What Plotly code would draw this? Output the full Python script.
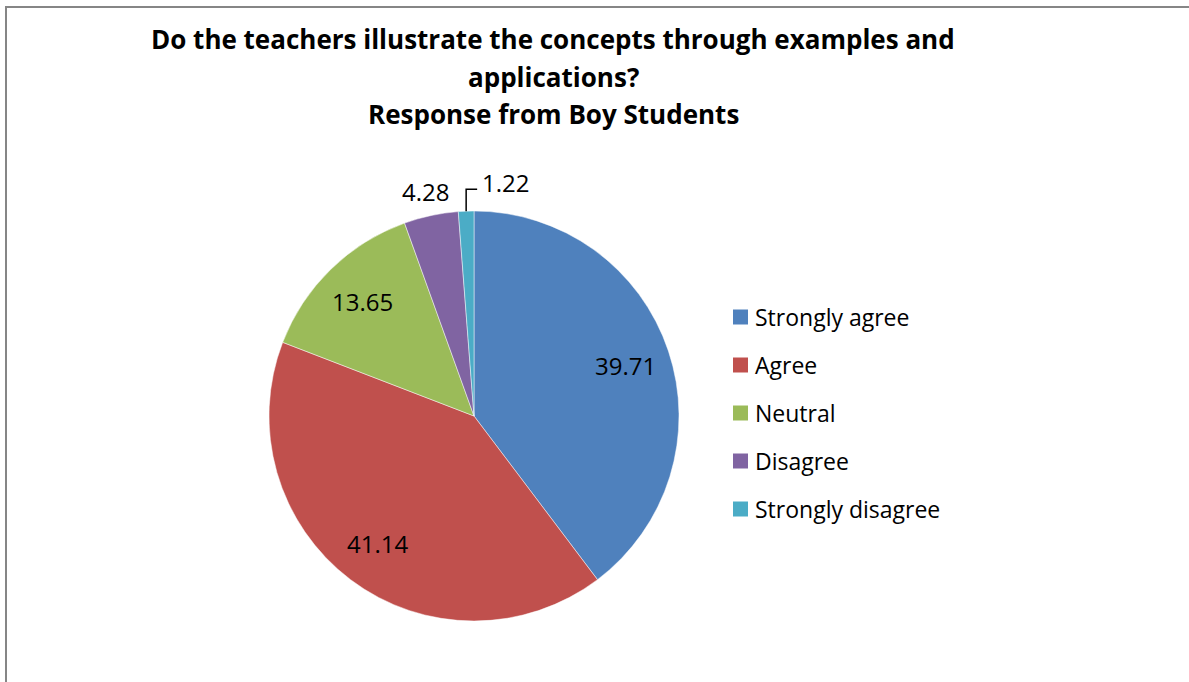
import numpy as np
import plotly.graph_objects as go

# Survey responses (percent)
categories = ["Strongly agree", "Agree", "Neutral", "Disagree", "Strongly disagree"]
values = [39.71, 41.14, 13.65, 4.28, 1.22]
colors = ["#4F81BD", "#C0504D", "#9BBB59", "#8064A2", "#4BACC6"]
title_lines = [
    "Do the teachers illustrate the concepts through examples and",
    "applications?",
    "Response from Boy Students",
]

W, H = 1189, 682
CX, CY, R = 474, 416, 205  # pie centre and radius in pixels
FONT = "Open Sans"


def px(x):
    return x / W


def py(y):
    return 1 - y / H


fig = go.Figure(
    go.Pie(
        labels=categories,
        values=values,
        marker=dict(colors=colors, line=dict(color="rgba(255,255,255,0.6)", width=0.8)),
        sort=False,
        direction="clockwise",
        rotation=0,
        textinfo="none",
        hoverinfo="label+value",
        showlegend=False,
        domain=dict(x=[px(CX - R), px(CX + R)], y=[py(CY + R), py(CY - R)]),
    )
)

# slice mid-angles, clockwise from 12 o'clock
vals = np.array(values)
cum = np.cumsum(vals) / vals.sum()
mid = (cum - vals / vals.sum() / 2) * 2 * np.pi

annotations = []
shapes = []
LABEL_FONT = dict(family=FONT, size=24, color="#000000")
LEGEND_FONT = dict(family=FONT, size=23, color="#000000")

# data labels
for i, (v, a) in enumerate(zip(values, mid)):
    if v >= 10:
        r = 0.78 * R
        annotations.append(dict(
            x=px(CX + r * np.sin(a)), y=py(CY - r * np.cos(a)), xref="paper", yref="paper",
            text=f"{v:.2f}", showarrow=False, xanchor="center", yanchor="middle",
            font=LABEL_FONT,
        ))
    elif i == 3:
        r = 1.12 * R
        annotations.append(dict(
            x=px(CX + r * np.sin(a)), y=py(CY - r * np.cos(a)), xref="paper", yref="paper",
            text=f"{v:.2f}", showarrow=False, xanchor="center", yanchor="middle",
            font=LABEL_FONT,
        ))
    else:
        # elbow leader line from the slice edge to the label
        x0 = CX + R * np.sin(a)
        y0 = CY - R * np.cos(a)
        y1 = y0 - 22
        x2 = x0 + 11
        shapes.append(dict(
            type="path", xref="paper", yref="paper",
            path=f"M{px(x0)},{py(y0)} L{px(x0)},{py(y1)} L{px(x2)},{py(y1)}",
            line=dict(color="#000000", width=1.5),
        ))
        annotations.append(dict(
            x=px(x2 + 3), y=py(y1 - 7), xref="paper", yref="paper",
            text=f"{v:.2f}", showarrow=False, xanchor="left", yanchor="middle",
            font=LABEL_FONT,
        ))

# title, one annotation per line
for k, line in enumerate(title_lines):
    annotations.append(dict(
        x=px(553), y=py(39 + 37.5 * k), xref="paper", yref="paper",
        text=f"<b>{line}</b>", showarrow=False, xanchor="center", yanchor="middle",
        font=dict(family=FONT, size=26, color="#000000"),
    ))

# legend
LX, LY, STEP, SQ = 733, 317, 48, 15
for k, (name, col) in enumerate(zip(categories, colors)):
    yc = LY + STEP * k
    shapes.append(dict(
        type="rect", xref="paper", yref="paper",
        x0=px(LX), x1=px(LX + SQ), y0=py(yc + SQ / 2), y1=py(yc - SQ / 2),
        fillcolor=col, line=dict(width=0),
    ))
    annotations.append(dict(
        x=px(LX + SQ + 5), y=py(yc), xref="paper", yref="paper",
        text=name, showarrow=False, xanchor="left", yanchor="middle",
        font=LEGEND_FONT,
    ))

# chart frame (left and top edges)
shapes.append(dict(
    type="path", xref="paper", yref="paper",
    path=f"M{px(6)},{py(H + 5)} L{px(6)},{py(7)} L{px(W + 5)},{py(7)}",
    line=dict(color="#868686", width=2),
))

fig.update_layout(
    width=W, height=H,
    margin=dict(l=0, r=0, t=0, b=0),
    paper_bgcolor="#FFFFFF",
    plot_bgcolor="#FFFFFF",
    annotations=annotations,
    shapes=shapes,
    showlegend=False,
)

fig.write_html("out.html")
